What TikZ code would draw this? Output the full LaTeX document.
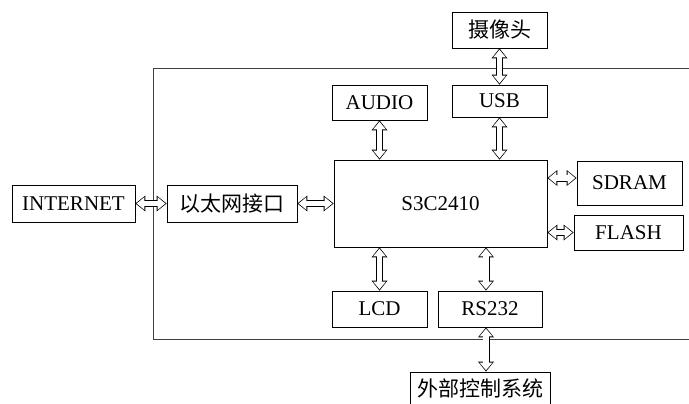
\documentclass[tikz,border=0pt]{standalone}
\usepackage{fontspec}
\setmainfont{Liberation Serif}
\newfontfamily\cjk{Noto Sans CJK SC}
\usetikzlibrary{arrows.meta}
\begin{document}
\begin{tikzpicture}[x=1pt, y=-1pt,
  blk/.style={draw, line width=0.8pt, inner sep=0pt, font=\fontsize{21}{24}\selectfont},
  link/.style={line width=7pt,
    {Triangle[length=10pt,width=16pt,line width=0pt]}-{Triangle[length=10pt,width=16pt,line width=0pt]},
    postaction={draw=white, line width=5.4pt, shorten <=1.3pt, shorten >=1.3pt,
    {Triangle[length=7.6pt,width=12.6pt,line width=0pt]}-{Triangle[length=7.6pt,width=12.6pt,line width=0pt]}}}]
\useasboundingbox (0,0) rectangle (689,404);
% frame
\draw[line width=0.9pt, black!75] (689,68) -- (153,68) -- (153,339) -- (689,339);
% blocks
\node[blk, minimum width=123, minimum height=37] (inet) at (73.5,203.5){INTERNET};
\node[blk, minimum width=130, minimum height=37] (eth) at (232,203.5){\cjk 以太网接口};
\node[blk, minimum width=213, minimum height=87] (cpu) at (440.5,203.5){S3C2410};
\node[blk, minimum width=95, minimum height=36] (cam) at (499.5,30){\cjk 摄像头};
\node[blk, minimum width=95, minimum height=35] (audio) at (379.5,102.5){AUDIO};
\node[blk, minimum width=95, minimum height=32] (usb) at (499.5,101){USB};
\node[blk, minimum width=105, minimum height=44] (sdram) at (629.5,183){SDRAM};
\node[blk, minimum width=109, minimum height=35] (flash) at (628.5,232.5){FLASH};
\node[blk, minimum width=95, minimum height=36] (lcd) at (379.5,309){LCD};
\node[blk, minimum width=104, minimum height=36] (rs) at (490,309){RS232};
\node[blk, minimum width=140, minimum height=32] (ext) at (480,388){\cjk 外部控制系统};
% links
\draw[link] (inet) -- (eth);
\draw[link] (eth) -- (cpu);
\draw[link] (cam) -- (usb);
\draw[link] (usb) -- (usb |- cpu.north);
\draw[link] (audio) -- (audio |- cpu.north);
\draw[link] (lcd) -- (lcd |- cpu.south);
\draw[link] ([xshift=-4]rs.north) -- ([xshift=-4]rs.north |- cpu.south);
\draw[link] ([xshift=-4]rs.south) -- ([xshift=-4]rs.south |- ext.north);
\draw[link] ([yshift=5]sdram.west) -- ([yshift=5]sdram.west -| cpu.east);
\draw[link] (flash.west) -- (flash.west -| cpu.east);
\end{tikzpicture}
\end{document}
